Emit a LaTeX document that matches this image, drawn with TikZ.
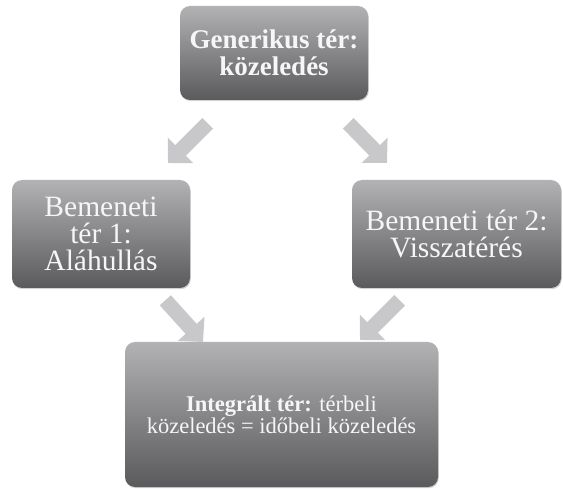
\documentclass[tikz,border=0pt]{standalone}
\usepackage{fontspec}
\setmainfont{Liberation Serif}
\usepackage{tikz}
\usetikzlibrary{positioning}
\usetikzlibrary{arrows.meta}
\usetikzlibrary{shadows}
\definecolor{boxtop}{RGB}{178,178,181}
\definecolor{boxbottom}{RGB}{90,90,92}
\definecolor{boxtext}{RGB}{246,246,246}
\definecolor{arrowgray}{RGB}{200,200,202}

\begin{document}
\begin{tikzpicture}[x=1pt, y=-1pt,
 space/.style={rectangle, rounded corners=10pt, draw=none, inner sep=2pt, outer sep=0pt,
   top color=boxtop, bottom color=boxbottom, text=boxtext, align=center,
   drop shadow={shadow xshift=0.8pt, shadow yshift=-1.2pt, opacity=0.35}},
 blockarrow/.style={arrowgray, line width=15pt,
   -{Triangle[width=35pt, length=17.7pt]}}]

\useasboundingbox (0,0) rectangle (563,489);

\node [space, minimum width=188pt, minimum height=94pt,
  font=\fontsize{27}{27}\selectfont\bfseries] (gen) at (274,53)
  {Generikus tér:\\közeledés};

\node [space, minimum width=178pt, minimum height=108pt,
  font=\fontsize{29.5}{27}\selectfont] (in1) at (101,234)
  {Bemeneti\\tér 1:\\Aláhullás};

\node [space, minimum width=209pt, minimum height=108pt,
  font=\fontsize{29.5}{27}\selectfont] (in2) at (456.5,234)
  {Bemeneti tér 2:\\Visszatérés};

\node [space, minimum width=313pt, minimum height=145pt,
  font=\fontsize{22.5}{22}\selectfont] (blend) at (281.5,414.5)
  {\textbf{Integrált tér:} térbeli\\közeledés = időbeli közeledés};

% block arrows between the spaces
\draw [blockarrow] ([xshift=27.7pt,yshift=-23.3pt]gen.south west) -- ([xshift=-22pt,yshift=17pt]in1.north east);
\draw [blockarrow] ([xshift=-19.7pt,yshift=-23.3pt]gen.south east) -- ([xshift=35pt,yshift=17pt]in2.north west);
\draw [blockarrow] ([xshift=-24.7pt,yshift=-12.3pt]in1.south east) -- ([xshift=78pt]blend.north west);
\draw [blockarrow] ([xshift=47.7pt,yshift=-12.3pt]in2.south west) -- ([xshift=-78pt,yshift=2pt]blend.north east);

\end{tikzpicture}
\end{document}
